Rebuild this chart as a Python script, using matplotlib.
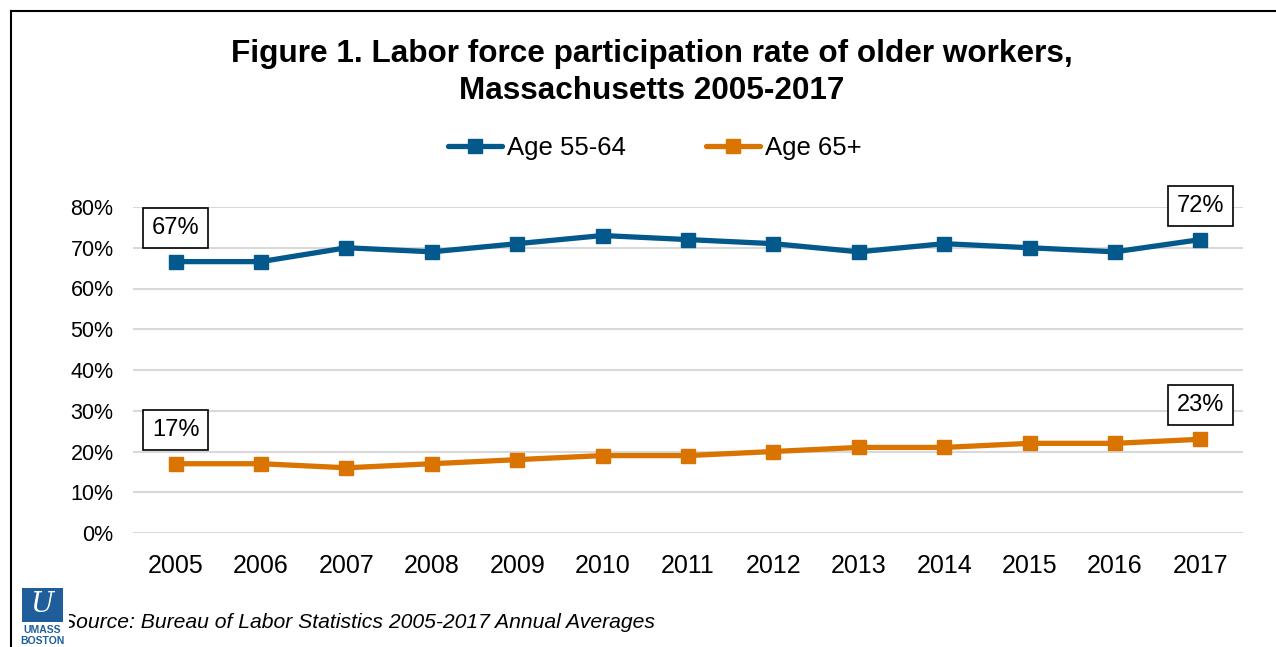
import matplotlib
matplotlib.use("Agg")
import matplotlib.pyplot as plt
from matplotlib.patches import Rectangle
from matplotlib.lines import Line2D

plt.rcParams['font.family'] = ['Liberation Sans', 'DejaVu Sans']

years = ['2005', '2006', '2007', '2008', '2009', '2010', '2011', '2012',
         '2013', '2014', '2015', '2016', '2017']
age_55_64 = [66.6, 66.6, 70, 69, 71, 73, 72, 71, 69, 71, 70, 69, 72]
age_65_plus = [17, 17, 16, 17, 18, 19, 19, 20, 21, 21, 22, 22, 23]
series_names = ['Age 55-64', 'Age 65+']
colors = ['#03598C', '#D97401']
y_ticks = [0, 10, 20, 30, 40, 50, 60, 70, 80]
title_lines = ['Figure 1. Labor force participation rate of older workers,',
               'Massachusetts 2005-2017']
source = 'Source: Bureau of Labor Statistics 2005-2017 Annual Averages'

W, H = 1276, 647
fig = plt.figure(figsize=(W / 100, H / 100), dpi=100)
ax = fig.add_axes([133 / W, 1 - 533 / H, 1110 / W, 326 / H])

x = list(range(len(years)))
for vals, name, c in zip([age_55_64, age_65_plus], series_names, colors):
    ax.plot(x, vals, color=c, lw=3.8, marker='s', ms=10, label=name,
            solid_capstyle='round', zorder=3)
    for idx in (0, len(vals) - 1):
        ax.annotate(f'{round(vals[idx])}%', (x[idx], vals[idx]),
                    xytext=(0, 24.5), textcoords='offset points',
                    ha='center', va='center', fontsize=17,
                    bbox=dict(boxstyle='square,pad=0.38', fc='white', ec='black', lw=1.2),
                    annotation_clip=False, zorder=5)

ax.set_xlim(-0.5, len(years) - 0.5)
ax.set_ylim(0, 80)
ax.set_xticks(x)
ax.set_xticklabels(years, fontsize=18)
ax.set_yticks(y_ticks)
ax.set_yticklabels([f'{v}%' for v in y_ticks], fontsize=15.5)
ax.tick_params(axis='y', length=0, pad=14)
ax.tick_params(axis='x', length=0, pad=15)
for s in ax.spines.values():
    s.set_visible(False)
ax.grid(axis='y', color='#D9D9D9', lw=1.5)
ax.set_axisbelow(True)

fig.text(652 / W, 1 - 62 / H, title_lines[0], ha='center', va='baseline',
         fontsize=22.7, fontweight='bold')
fig.text(652 / W, 1 - 99 / H, title_lines[1], ha='center', va='baseline',
         fontsize=22.7, fontweight='bold')

handles = [Line2D([0], [0], color=c, lw=3.8, marker='s', ms=10,
                  solid_capstyle='round') for c in colors]
fig.legend(handles, series_names, loc='center', bbox_to_anchor=(655 / W, 1 - 148 / H),
           ncol=2, frameon=False, fontsize=18.5, handlelength=2.1,
           columnspacing=3.1, handletextpad=0.2, borderpad=0, borderaxespad=0)

# frame lines (left and top)
fig.add_artist(Line2D([11 / W, 11 / W], [0, 1 - 11 / H], color='black', lw=1.5,
                      transform=fig.transFigure))
fig.add_artist(Line2D([11 / W, 1], [1 - 11 / H, 1 - 11 / H], color='black', lw=1.5,
                      transform=fig.transFigure))

fig.text(62 / W, 1 - 628 / H, source, ha='left', va='baseline', fontsize=15.2,
         style='italic')

# logo
cover2 = Rectangle((18 / W, 1 - 640 / H), 51 / W, 60 / H, transform=fig.transFigure,
                   fc='white', ec='none', zorder=9)
fig.add_artist(cover2)
logo = Rectangle((22 / W, 1 - 622 / H), 41 / W, 34 / H, transform=fig.transFigure,
                 fc='#1F5E9A', ec='none', zorder=10)
fig.add_artist(logo)
fig.text(42 / W, 1 - 605 / H, 'U', ha='center', va='center', fontsize=20,
         style='italic', color='white', family='DejaVu Serif', zorder=11)
cover = Rectangle((20 / W, 0), 45 / W, 25 / H, transform=fig.transFigure,
                  fc='white', ec='none', zorder=10)
fig.add_artist(cover)
fig.text(42 / W, 1 - 630 / H, 'UMASS', ha='center', va='center', fontsize=7.5,
         fontweight='bold', color='#1F5E9A', zorder=11)
fig.text(42 / W, 1 - 641 / H, 'BOSTON', ha='center', va='center', fontsize=7.5,
         fontweight='bold', color='#1F5E9A', zorder=11)

fig.savefig('out.png', dpi=100)
